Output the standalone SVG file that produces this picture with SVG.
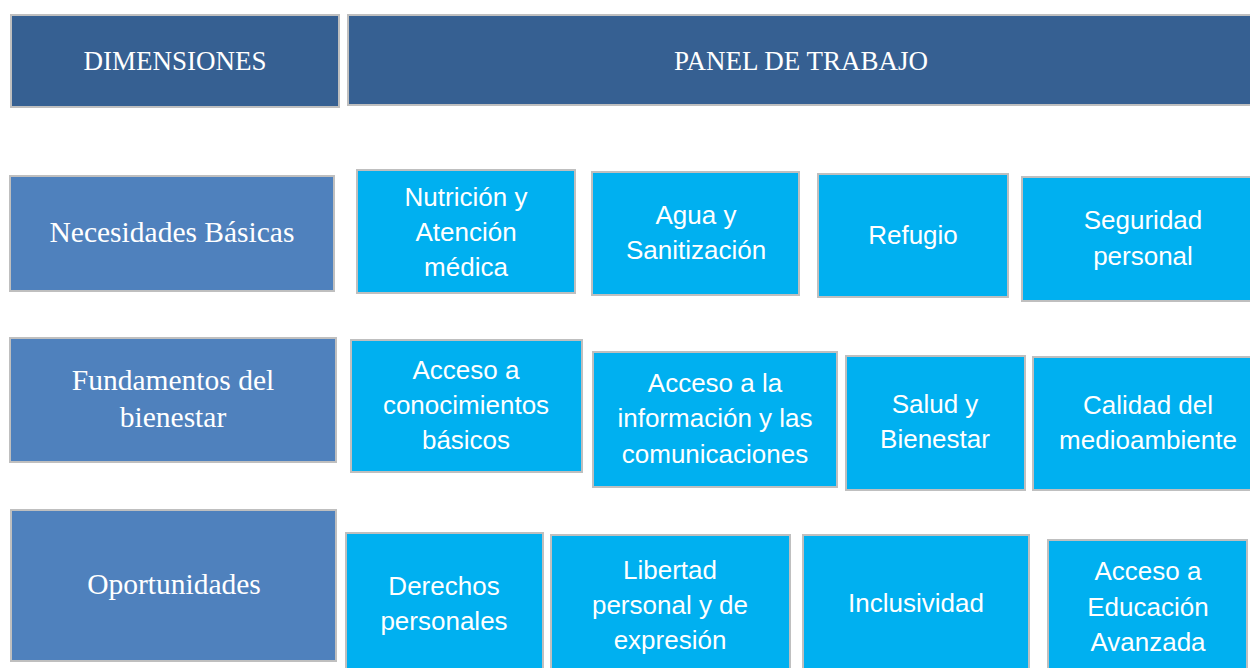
<svg xmlns="http://www.w3.org/2000/svg" width="1250" height="668" viewBox="0 0 1250 668">
<style>
.hdr{fill:#366092;stroke:#BFBFBF;stroke-width:2}
.dim{fill:#4F81BD;stroke:#BFBFBF;stroke-width:2}
.cell{fill:#00B0F0;stroke:#BFBFBF;stroke-width:2}
.ts{font-family:"Liberation Serif","Times New Roman",serif;fill:#FFFFFF;text-anchor:middle}
.tc{font-family:"Liberation Sans",Arial,sans-serif;font-size:26px;fill:#FFFFFF;text-anchor:middle}
</style>
<rect width="1250" height="668" fill="#FFFFFF"/>
<g id="connectors"></g>
<g id="dimensiones"><rect class="hdr" x="11" y="15" width="328" height="92"/><text class="ts" x="175" y="70" font-size="27">DIMENSIONES</text></g>
<g id="panel"><rect class="hdr" x="348" y="15" width="906" height="90"/><text class="ts" x="801" y="70" font-size="27">PANEL DE TRABAJO</text></g>

<g id="necesidades"><rect class="dim" x="10" y="176" width="324" height="115"/><text class="ts" x="172" y="242" font-size="29.5">Necesidades Básicas</text></g>
<g id="nutricion"><rect class="cell" x="357" y="170" width="218" height="123"/><text class="tc" x="466" y="206">Nutrición y</text><text class="tc" x="466" y="241">Atención</text><text class="tc" x="466" y="276">médica</text></g>
<g id="agua"><rect class="cell" x="592" y="172" width="207" height="123"/><text class="tc" x="696" y="224">Agua y</text><text class="tc" x="696" y="259">Sanitización</text></g>
<g id="refugio"><rect class="cell" x="818" y="174" width="190" height="123"/><text class="tc" x="913" y="244">Refugio</text></g>
<g id="seguridad"><rect class="cell" x="1022" y="177" width="232" height="124"/><text class="tc" x="1143" y="229">Seguridad</text><text class="tc" x="1143" y="265">personal</text></g>

<g id="fundamentos"><rect class="dim" x="10" y="338" width="326" height="124"/><text class="ts" x="173" y="390" font-size="29.5">Fundamentos del</text><text class="ts" x="173" y="427" font-size="29.5">bienestar</text></g>
<g id="conocimientos"><rect class="cell" x="351" y="340" width="231" height="132"/><text class="tc" x="466" y="379">Acceso a</text><text class="tc" x="466" y="414">conocimientos</text><text class="tc" x="466" y="449">básicos</text></g>
<g id="informacion"><rect class="cell" x="593" y="352" width="244" height="135"/><text class="tc" x="715" y="392">Acceso a la</text><text class="tc" x="715" y="427">información y las</text><text class="tc" x="715" y="463">comunicaciones</text></g>
<g id="salud"><rect class="cell" x="846" y="356" width="179" height="134"/><text class="tc" x="935" y="413">Salud y</text><text class="tc" x="935" y="448">Bienestar</text></g>
<g id="calidad"><rect class="cell" x="1033" y="357" width="221" height="133"/><text class="tc" x="1148" y="414">Calidad del</text><text class="tc" x="1148" y="449">medioambiente</text></g>

<g id="oportunidades"><rect class="dim" x="11" y="510" width="325" height="151"/><text class="ts" x="174" y="594" font-size="29.5">Oportunidades</text></g>
<g id="derechos"><rect class="cell" x="346" y="533" width="197" height="140"/><text class="tc" x="444" y="595">Derechos</text><text class="tc" x="444" y="630">personales</text></g>
<g id="libertad"><rect class="cell" x="551" y="535" width="239" height="138"/><text class="tc" x="670" y="579">Libertad</text><text class="tc" x="670" y="614">personal y de</text><text class="tc" x="670" y="649">expresión</text></g>
<g id="inclusividad"><rect class="cell" x="803" y="535" width="226" height="138"/><text class="tc" x="916" y="612">Inclusividad</text></g>
<g id="educacion"><rect class="cell" x="1048" y="540" width="199" height="133"/><text class="tc" x="1148" y="580">Acceso a</text><text class="tc" x="1148" y="616">Educación</text><text class="tc" x="1148" y="651">Avanzada</text></g>
</svg>
